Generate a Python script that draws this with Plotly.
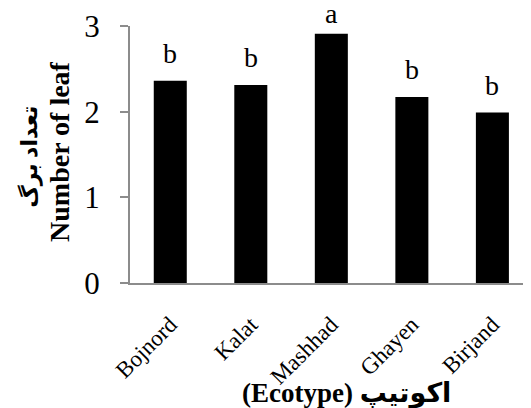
import plotly.graph_objects as go

ecotypes = ["Bojnord", "Kalat", "Mashhad", "Ghayen", "Birjand"]
leaf_number = [2.36, 2.31, 2.91, 2.17, 1.99]
group_letters = ["b", "b", "a", "b", "b"]
y_ticks = [0, 1, 2, 3]

FONT = "Liberation Serif, 'Times New Roman', DejaVu Sans, serif"
AXIS_GRAY = "#8c8c8c"

fig = go.Figure()
fig.add_trace(go.Bar(
    x=ecotypes,
    y=leaf_number,
    marker=dict(color="black", line=dict(width=0)),
    showlegend=False,
    hoverinfo="x+y",
))

# letter offsets (px) above each bar
letter_shift = [10, 10, 3, 10, 10]
for cat, val, lab, sh in zip(ecotypes, leaf_number, group_letters, letter_shift):
    fig.add_annotation(
        x=cat, y=val, text=lab, showarrow=False,
        yanchor="bottom", yshift=sh,
        font=dict(family=FONT, size=28, color="black"),
    )

# x-axis title
fig.add_annotation(
    xref="paper", yref="paper", x=0.55, y=-0.43,
    xanchor="center", yanchor="middle",
    text="(Ecotype) اکوتیپ", showarrow=False,
    font=dict(family=FONT, size=27, color="black", weight="bold"),
)

# y-axis title (two lines)
fig.add_annotation(
    xref="paper", yref="paper", x=-0.255, y=0.49,
    xanchor="center", yanchor="middle", textangle=-90,
    text="تعداد برگ", showarrow=False,
    font=dict(family=FONT, size=22, color="black", weight="bold"),
)
fig.add_annotation(
    xref="paper", yref="paper", x=-0.178, y=0.51,
    xanchor="center", yanchor="middle", textangle=-90,
    text="Number of leaf", showarrow=False,
    font=dict(family=FONT, size=28, color="black", weight="bold"),
)

# The page body adds an 8px margin, so the figure is sized to fit the window.
fig.update_layout(
    width=523, height=400,
    margin=dict(l=122, r=8, t=18, b=125),
    paper_bgcolor="white", plot_bgcolor="white",
    bargap=0.59,
    font=dict(family=FONT, color="black"),
    xaxis=dict(
        range=[-0.5, 4.38],
        showline=True, linecolor=AXIS_GRAY, linewidth=2,
        ticks="", showgrid=False, zeroline=False,
        tickangle=-45, automargin=False,
        tickfont=dict(family=FONT, size=23, color="black"),
        ticklabelstandoff=17,
    ),
    yaxis=dict(
        range=[0, 3],
        tickvals=y_ticks,
        showline=True, linecolor=AXIS_GRAY, linewidth=2,
        ticks="outside", ticklen=8, tickcolor=AXIS_GRAY, tickwidth=2,
        showgrid=False, zeroline=False, automargin=False,
        tickfont=dict(family=FONT, size=31, color="black"),
        ticklabelstandoff=14,
    ),
)

fig.write_html("out.html")
